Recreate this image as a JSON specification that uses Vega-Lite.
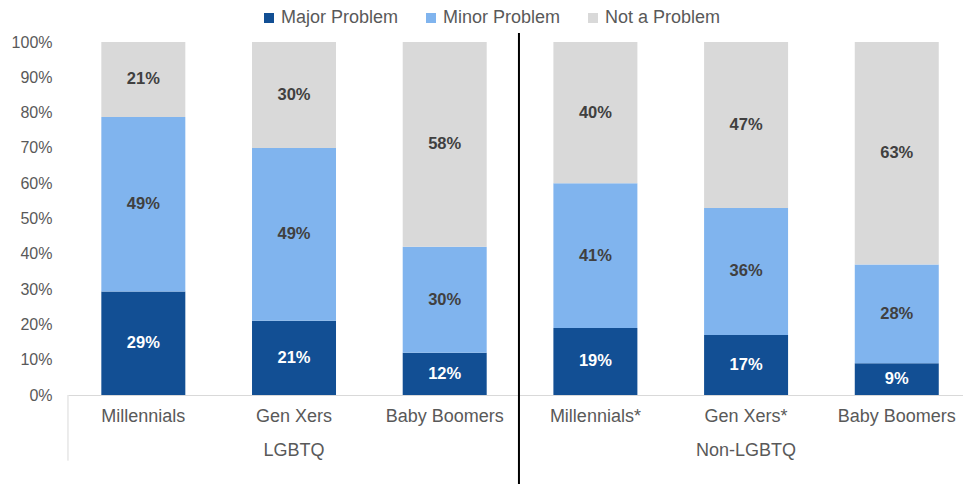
{
  "$schema": "https://vega.github.io/schema/vega-lite/v6.json",
  "width": 895,
  "height": 353,
  "autosize": {"type": "none"},
  "padding": {"left": 68, "top": 42, "right": 0, "bottom": 89},
  "background": "white",
  "resolve": {"axis": {"y": "independent"}},
  "config": {
    "view": {"stroke": null},
    "font": "Liberation Sans",
    "axisY": {
      "labelOverlap": false,
      "domain": false,
      "ticks": false,
      "grid": false,
      "labelFontSize": 16,
      "labelColor": "#595959",
      "labelPadding": 16,
      "title": null
    }
  },
  "data": {
    "values": [
      {"bar": "LGBTQ|Millennials", "type": "Major Problem", "value": 0.29},
      {"bar": "LGBTQ|Millennials", "type": "Minor Problem", "value": 0.49},
      {"bar": "LGBTQ|Millennials", "type": "Not a Problem", "value": 0.21},
      {"bar": "LGBTQ|Gen Xers", "type": "Major Problem", "value": 0.21},
      {"bar": "LGBTQ|Gen Xers", "type": "Minor Problem", "value": 0.49},
      {"bar": "LGBTQ|Gen Xers", "type": "Not a Problem", "value": 0.30},
      {"bar": "LGBTQ|Baby Boomers", "type": "Major Problem", "value": 0.12},
      {"bar": "LGBTQ|Baby Boomers", "type": "Minor Problem", "value": 0.30},
      {"bar": "LGBTQ|Baby Boomers", "type": "Not a Problem", "value": 0.58},
      {"bar": "Non-LGBTQ|Millennials*", "type": "Major Problem", "value": 0.19},
      {"bar": "Non-LGBTQ|Millennials*", "type": "Minor Problem", "value": 0.41},
      {"bar": "Non-LGBTQ|Millennials*", "type": "Not a Problem", "value": 0.40},
      {"bar": "Non-LGBTQ|Gen Xers*", "type": "Major Problem", "value": 0.17},
      {"bar": "Non-LGBTQ|Gen Xers*", "type": "Minor Problem", "value": 0.36},
      {"bar": "Non-LGBTQ|Gen Xers*", "type": "Not a Problem", "value": 0.47},
      {"bar": "Non-LGBTQ|Baby Boomers", "type": "Major Problem", "value": 0.09},
      {"bar": "Non-LGBTQ|Baby Boomers", "type": "Minor Problem", "value": 0.28},
      {"bar": "Non-LGBTQ|Baby Boomers", "type": "Not a Problem", "value": 0.63}
    ]
  },
  "encoding": {
    "x": {
      "field": "bar",
      "type": "nominal",
      "sort": null,
      "scale": {"paddingInner": 0.4426, "paddingOuter": 0.191, "align": 0.579},
      "axis": {
        "title": null,
        "domainColor": "#D9D9D9",
        "domainWidth": 1,
        "ticks": false,
        "labelAngle": 0,
        "labelFontSize": 18,
        "labelColor": "#595959",
        "labelPadding": 12,
        "labelLineHeight": 34,
        "labelBaseline": "top",
        "labelExpr": "indexof(datum.value, 'Gen Xers') >= 0 ? [split(datum.value, '|')[1], split(datum.value, '|')[0]] : split(datum.value, '|')[1]"
      }
    }
  },
  "layer": [
    {
      "mark": {"type": "bar"},
      "encoding": {
        "y": {
          "field": "value",
          "type": "quantitative",
          "stack": "normalize",
          "scale": {"domain": [0, 1]},
          "axis": {
            "values": [0, 0.1, 0.2, 0.3, 0.4, 0.5, 0.6, 0.7, 0.8, 0.9, 1],
            "format": ".0%",
            "labelOverlap": false
          }
        },
        "color": {
          "field": "type",
          "type": "nominal",
          "scale": {
            "domain": ["Major Problem", "Minor Problem", "Not a Problem"],
            "range": ["#124F94", "#80B4EE", "#D9D9D9"]
          },
          "legend": {
            "title": null,
            "orient": "none",
            "direction": "horizontal",
            "legendX": 192,
            "legendY": -33,
            "padding": 0,
            "symbolType": "square",
            "symbolSize": 100,
            "symbolStrokeWidth": 0,
            "labelFontSize": 18,
            "labelColor": "#595959",
            "labelOffset": 3,
            "columnPadding": 23
          }
        },
        "order": {"field": "type", "sort": "ascending"}
      }
    },
    {
      "mark": {"type": "text", "fontWeight": "bold", "fontSize": 16.5, "baseline": "middle"},
      "encoding": {
        "y": {"field": "value", "type": "quantitative", "stack": "normalize", "bandPosition": 0.5, "axis": null},
        "detail": {"field": "type"},
        "order": {"field": "type", "sort": "ascending"},
        "text": {"field": "value", "type": "quantitative", "format": ".0%"},
        "color": {
          "condition": {"test": "datum.type == 'Major Problem'", "value": "#FFFFFF"},
          "value": "#404040"
        }
      }
    },
    {
      "data": {"values": [{}]},
      "mark": {"type": "rule", "color": "#D9D9D9", "strokeWidth": 1},
      "encoding": {
        "x": {"datum": "LGBTQ|Millennials", "bandPosition": -0.397},
        "y": {"datum": 0, "axis": null},
        "y2": {"datum": -0.186}
      }
    },
    {
      "data": {"values": [{}]},
      "mark": {"type": "rule", "color": "#000000", "strokeWidth": 2},
      "encoding": {
        "x": {"datum": "Non-LGBTQ|Millennials*", "bandPosition": -0.41},
        "y": {"datum": 1.0255, "axis": null},
        "y2": {"datum": -0.3}
      }
    }
  ]
}
